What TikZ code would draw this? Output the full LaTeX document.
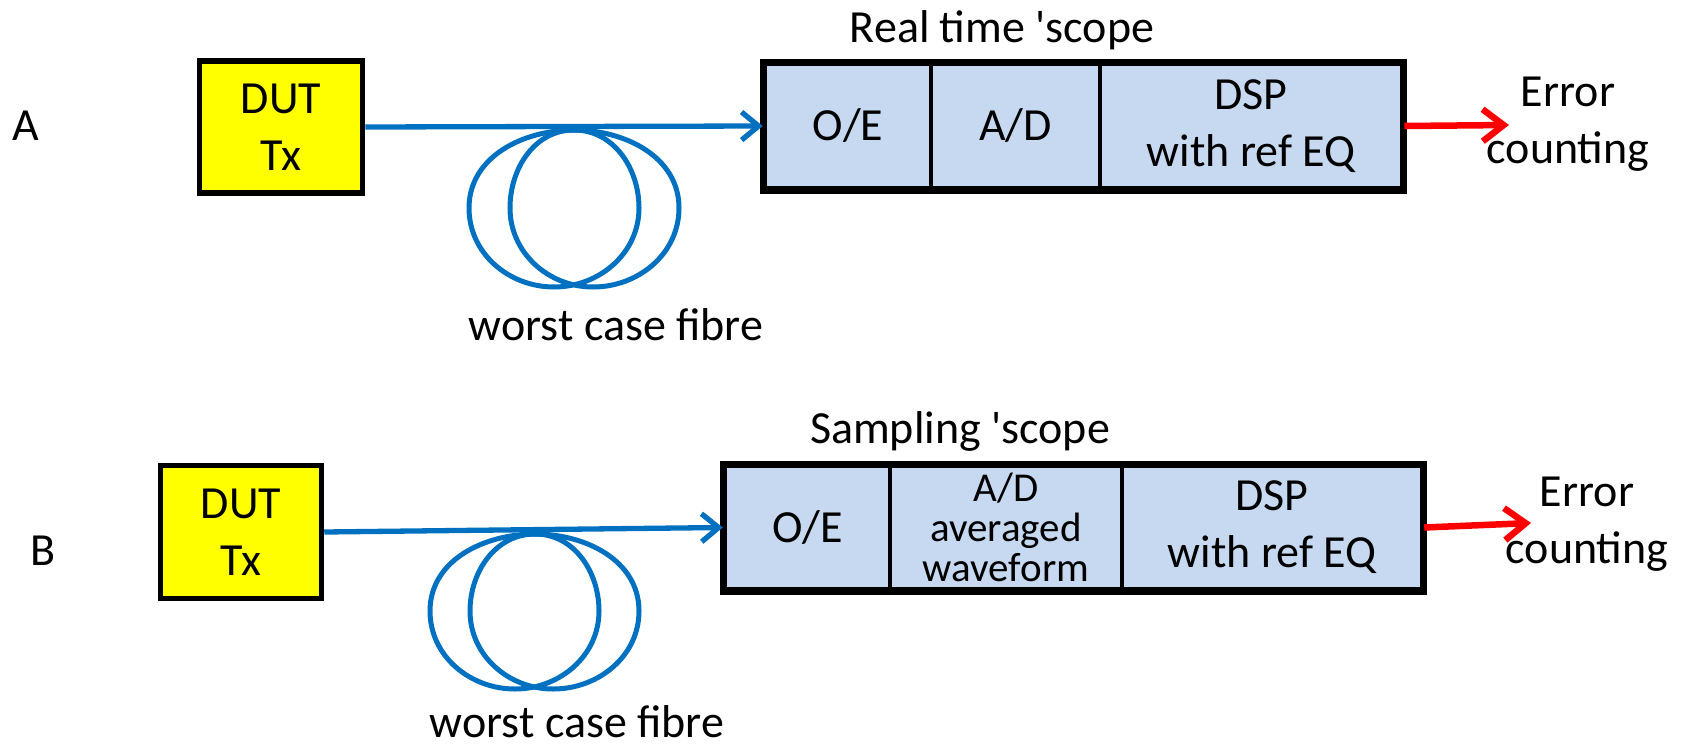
\documentclass[tikz,border=0pt]{standalone}
\usepackage{fontspec}
\setmainfont{Carlito}
\usetikzlibrary{arrows.meta}
\definecolor{fibreblue}{RGB}{0,112,192}
\definecolor{cellblue}{RGB}{198,217,240}
\definecolor{dutyellow}{RGB}{255,255,0}
\definecolor{errred}{RGB}{255,0,0}
\begin{document}
\begin{tikzpicture}[x=1pt,y=-1pt,
  txt/.style={font=\fontsize{46}{57}\selectfont, align=center, inner sep=0pt},
  dutbox/.style={draw=black, line width=5.5pt, fill=dutyellow, inner sep=0pt,
    font=\fontsize{46}{57}\selectfont, align=center},
  cellbox/.style={draw=black, line width=4.5pt, fill=cellblue, inner sep=0pt,
    font=\fontsize{46}{57}\selectfont, align=center},
  outerbox/.style={draw=black, line width=5.5pt},
  fibrearrow/.style={draw=fibreblue, line width=5.3pt,
    -{Straight Barb[length=17pt,width=28pt]}},
  fibreloop/.style={draw=fibreblue, line width=5pt},
  outarrow/.style={draw=errred, line width=6.5pt,
    -{Straight Barb[length=21pt,width=32pt]}}
]
\useasboundingbox (0,0) rectangle (1685,744);

% ---------------- A ----------------
\node[txt, anchor=base] (labA) at (26,140) {A};
\node[dutbox, minimum width=163pt, minimum height=132pt] (dutA) at (281,127) {DUT\\Tx};

\node[cellbox, minimum width=166pt, minimum height=125pt] (oeA) at (848,126) {O/E};
\node[cellbox, minimum width=169pt, minimum height=125pt] (adA) at (1015.5,126) {A/D};
\node[cellbox, minimum width=302pt, minimum height=125pt] (dspA) at (1251,126) {DSP\\with ref EQ};
\draw[outerbox] (oeA.north west) rectangle (dspA.south east);
\node[txt, anchor=base] (scopeA) at (1002,42) {Real time \textquotesingle scope};

\draw[fibreloop] (574,130) to[out=180,in=90] (469,208) to[out=-90,in=180] (554,287)
  to[out=0,in=-90] (639,208) to[out=90,in=0] cycle;
\draw[fibreloop] (574,130) to[out=180,in=90] (510,208) to[out=-90,in=180] (593,287)
  to[out=0,in=-90] (679,208) to[out=90,in=0] cycle;
\draw[fibrearrow] (dutA.east) -- (oeA.west);
\node[txt, anchor=base] (fibA) at (616,340) {worst case fibre};

\coordinate (endA) at (1509,125);
\draw[outarrow] (dspA.east) -- (endA);
\node[txt] (errA) at (1568,124) {Error\\counting};

% ---------------- B ----------------
\node[txt, anchor=base] (labB) at (43,565) {B};
\node[dutbox, minimum width=161pt, minimum height=133pt] (dutB) at (241,532) {DUT\\Tx};

\node[cellbox, minimum width=165pt, minimum height=124pt] (oeB) at (807.5,527.5) {O/E};
\node[cellbox, minimum width=232pt, minimum height=124pt, font=\fontsize{41}{40}\selectfont] (adB) at (1006,527.5) {A/D\\averaged\\waveform};
\node[cellbox, minimum width=300pt, minimum height=124pt] (dspB) at (1272,527.5) {DSP\\with ref EQ};
\draw[outerbox] (oeB.north west) rectangle (dspB.south east);
\node[txt, anchor=base] (scopeB) at (960,443) {Sampling \textquotesingle scope};

\draw[fibreloop] (535,534) to[out=180,in=90] (430,611) to[out=-90,in=180] (515,689)
  to[out=0,in=-90] (599,611) to[out=90,in=0] cycle;
\draw[fibreloop] (535,534) to[out=180,in=90] (470,611) to[out=-90,in=180] (553,689)
  to[out=0,in=-90] (639,611) to[out=90,in=0] cycle;
\draw[fibrearrow] (dutB.east) -- (oeB.west);
\node[txt, anchor=base] (fibB) at (577,737) {worst case fibre};

\coordinate (endB) at (1531,523);
\draw[outarrow] (dspB.east) -- (endB);
\node[txt] (errB) at (1587,524) {Error\\counting};
\end{tikzpicture}
\end{document}
